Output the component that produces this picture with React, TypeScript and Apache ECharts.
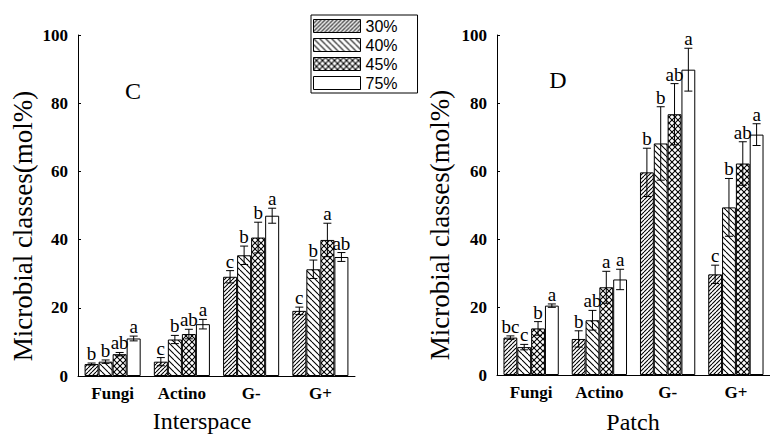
import React, { useEffect, useRef } from "react";
import * as echarts from "echarts";

const categories = ["Fungi", "Actino", "G-", "G+"];
const seriesNames = ["30%", "40%", "45%", "75%"];
const yTicks = [0, 20, 40, 60, 80, 100];
const yTitle = "Microbial classes(mol%)";

// Interspace (panel C)
const interMean30 = [3.5, 4.2, 29.1, 19.1];
const interMean40 = [4.2, 10.7, 35.4, 31.3];
const interMean45 = [6.4, 12.3, 40.6, 39.9];
const interMean75 = [11.0, 15.2, 47.0, 34.9];
const interErr30 = [0.3, 1.2, 1.8, 1.1];
const interErr40 = [0.5, 1.2, 2.7, 2.7];
const interErr45 = [0.5, 1.4, 4.5, 4.9];
const interErr75 = [0.7, 1.4, 2.2, 1.3];
const interSig30 = ["b", "c", "c", "c"];
const interSig40 = ["b", "b", "b", "b"];
const interSig45 = ["ab", "ab", "b", "a"];
const interSig75 = ["a", "a", "a", "ab"];

// Patch (panel D)
const patchMean30 = [11.0, 10.6, 59.6, 29.6];
const patchMean40 = [8.2, 16.1, 68.1, 49.3];
const patchMean45 = [13.7, 25.8, 76.7, 62.2];
const patchMean75 = [20.4, 28.1, 89.8, 70.7];
const patchErr30 = [0.5, 2.4, 7.1, 2.7];
const patchErr40 = [0.8, 2.9, 10.8, 8.5];
const patchErr45 = [2.0, 4.7, 9.0, 6.4];
const patchErr75 = [0.5, 3.0, 6.3, 3.2];
const patchSig30 = ["bc", "b", "b", "c"];
const patchSig40 = ["c", "ab", "b", "b"];
const patchSig45 = ["b", "a", "ab", "ab"];
const patchSig75 = ["a", "a", "a", "a"];

const panels = [
  {
    name: "Interspace",
    letter: "C",
    means: [interMean30, interMean40, interMean45, interMean75],
    errs: [interErr30, interErr40, interErr45, interErr75],
    sigs: [interSig30, interSig40, interSig45, interSig75],
  },
  {
    name: "Patch",
    letter: "D",
    means: [patchMean30, patchMean40, patchMean45, patchMean75],
    errs: [patchErr30, patchErr40, patchErr45, patchErr75],
    sigs: [patchSig30, patchSig40, patchSig45, patchSig75],
  },
];

const SERIF = "Liberation Serif";
const SANS = "Liberation Sans";
const CAT_GAP = 0.19;

function makeHatch(p: number, dirs: string[]) {
  const c = document.createElement("canvas");
  c.width = p;
  c.height = p;
  const ctx = c.getContext("2d")!;
  ctx.fillStyle = "#fff";
  ctx.fillRect(0, 0, p, p);
  ctx.strokeStyle = "#000";
  ctx.lineWidth = 1.1;
  for (const d of dirs) {
    for (let k = -1; k <= 1; k++) {
      ctx.beginPath();
      if (d === "/") {
        ctx.moveTo(k * p, p);
        ctx.lineTo(k * p + p, 0);
      } else {
        ctx.moveTo(k * p, 0);
        ctx.lineTo(k * p + p, p);
      }
      ctx.stroke();
    }
  }
  return {
    image: c.toDataURL(),
    repeat: "repeat",
    imageWidth: p,
    imageHeight: p,
  } as any;
}

export default function App() {
  const ref = useRef<HTMLDivElement>(null);
  useEffect(() => {
    if (!ref.current) return;
    const chart = echarts.init(ref.current, undefined, { renderer: "svg" });
    const fills: any[] = [
      makeHatch(4, ["/"]),
      makeHatch(6, ["\\"]),
      makeHatch(6, ["/", "\\"]),
      "#ffffff",
    ];

    const grids = [
      { left: 78, top: 35, width: 277, height: 341 },
      { left: 497, top: 35, width: 277, height: 340 },
    ];

    const xAxes = panels.map((p, g) => ({
      type: "category",
      gridIndex: g,
      data: categories,
      axisLine: { lineStyle: { color: "#000", width: 1 } },
      axisTick: { show: false },
      axisLabel: {
        color: "#000",
        fontFamily: SERIF,
        fontWeight: "bold",
        fontSize: 17,
        margin: 9,
      },
    }));

    const yAxes = panels.map((p, g) => ({
      type: "value",
      gridIndex: g,
      min: 0,
      max: 100,
      interval: 20,
      axisLine: { show: true, lineStyle: { color: "#000", width: 1 } },
      axisTick: { show: true, inside: true, length: 3, lineStyle: { color: "#000" } },
      splitLine: { show: false },
      axisLabel: {
        color: "#000",
        fontFamily: SERIF,
        fontWeight: "bold",
        fontSize: 17,
        margin: 10,
        formatter: (v: number) => (yTicks.includes(v) ? String(v) : ""),
      },
    }));

    const series: any[] = [];
    panels.forEach((p, g) => {
      seriesNames.forEach((sn, j) => {
        series.push({
          type: "bar",
          name: sn,
          xAxisIndex: g,
          yAxisIndex: g,
          data: p.means[j],
          barGap: "0%",
          barCategoryGap: CAT_GAP * 100 + "%",
          itemStyle: { color: fills[j], borderColor: "#000", borderWidth: 1 },
          emphasis: { disabled: true },
        });
      });
      const rows: number[][] = [];
      const labels: string[] = [];
      categories.forEach((_, ci) => {
        seriesNames.forEach((__, j) => {
          rows.push([ci, j, p.means[j][ci], p.errs[j][ci]]);
          labels.push(p.sigs[j][ci]);
        });
      });
      series.push({
        type: "custom",
        xAxisIndex: g,
        yAxisIndex: g,
        data: rows,
        z: 10,
        silent: true,
        renderItem: (params: any, api: any) => {
          const ci = api.value(0);
          const sj = api.value(1);
          const m = api.value(2);
          const e = api.value(3);
          const band = api.size([1, 0])[0];
          const bw = (band * (1 - CAT_GAP)) / 4;
          const base = api.coord([ci, 0]);
          const cx = base[0] + (sj - 1.5) * bw;
          const yTop = api.coord([ci, m + e])[1];
          const yBot = api.coord([ci, m - e])[1];
          const cap = 4;
          const ls = { stroke: "#000", lineWidth: 1 };
          return {
            type: "group",
            children: [
              { type: "line", shape: { x1: cx, y1: yTop, x2: cx, y2: yBot }, style: ls },
              { type: "line", shape: { x1: cx - cap, y1: yTop, x2: cx + cap, y2: yTop }, style: ls },
              { type: "line", shape: { x1: cx - cap, y1: yBot, x2: cx + cap, y2: yBot }, style: ls },
              {
                type: "text",
                x: cx,
                y: yTop,
                style: {
                  text: labels[params.dataIndex],
                  fill: "#000",
                  fontFamily: SERIF,
                  fontSize: 19,
                  align: "center",
                  verticalAlign: "bottom",
                },
              },
            ],
          };
        },
      });
    });

    const txt = (text: string, x: number, y: number, size: number, rot = 0) => ({
      type: "text",
      x,
      y,
      rotation: rot,
      style: {
        text,
        fill: "#000",
        fontFamily: SERIF,
        fontSize: size,
        align: "center",
        verticalAlign: "middle",
      },
    });

    chart.setOption({
      animation: false,
      backgroundColor: "#fff",
      grid: grids,
      xAxis: xAxes,
      yAxis: yAxes,
      legend: {
        data: seriesNames,
        orient: "vertical",
        left: 311,
        top: 15,
        icon: "rect",
        itemWidth: 47,
        itemHeight: 13,
        itemGap: 3,
        padding: [3, 20, 2, 2],
        borderColor: "#000",
        borderWidth: 1,
        backgroundColor: "#fff",
        selectedMode: false,
        itemStyle: { borderColor: "#000", borderWidth: 1 },
        textStyle: { color: "#000", fontFamily: SANS, fontSize: 16 },
      },
      graphic: [
        txt(panels[0].letter, 133, 91, 24),
        txt(panels[1].letter, 558, 80, 24),
        txt(yTitle, 23, 226, 27, Math.PI / 2),
        txt(yTitle, 440, 225, 27, Math.PI / 2),
        txt(panels[0].name, 202, 421, 24),
        txt(panels[1].name, 633, 422, 24),
      ],
      series,
    });
    return () => chart.dispose();
  }, []);
  return (
    <div
      ref={ref}
      style={{ position: "absolute", left: 0, top: 0, width: 770, height: 435 }}
    />
  );
}
